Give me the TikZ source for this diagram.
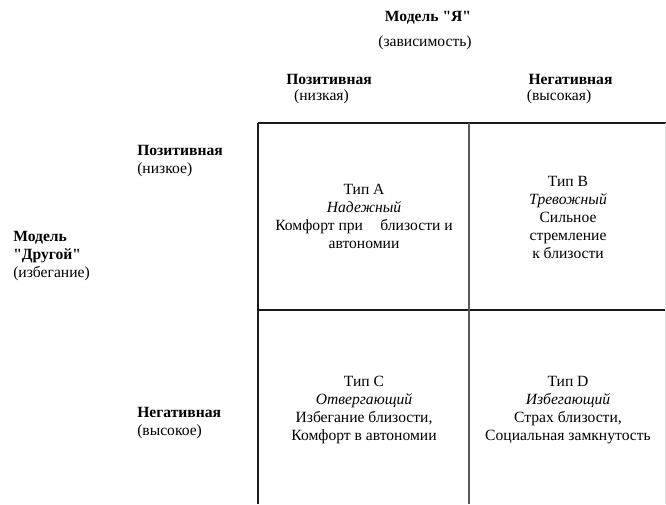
\documentclass[tikz,border=0pt]{standalone}
\usepackage{fontspec}
\setmainfont{Liberation Serif}[Ligatures=TeXOff]
\usetikzlibrary{positioning}

\begin{document}
\begin{tikzpicture}[x=0.75pt,y=-0.75pt,
  every node/.style={font=\fontsize{11.7}{13.5}\selectfont,inner sep=0pt},
  head/.style={font=\fontsize{11.7}{13.5}\selectfont\bfseries},
  side/.style={align=left,anchor=west},
  cell/.style={align=center},
  grid/.style={line width=1.1pt,black!90}]
\useasboundingbox (0,0) rectangle (666,504);

% draw horizontal lines
\draw[grid] (258,123) -- (666,123);
\draw[grid] (258,310) -- (666,310);

% draw vertical lines
\draw[grid] (258,123) -- (258,504);
\draw[grid,black!65] (469,123) -- (469,504);
\draw[line width=0.5pt,black!12] (665.5,123) -- (665.5,504);

% top labels
\node[head] (modelY) at (428,18) {Модель "Я"};
\node (depY) at (425,43) {(зависимость)};
\node[head] (posY) at (329,79) {Позитивная};
\node (lowY) at (321.5,97) {(низкая)};
\node[head] (negY) at (570.5,79) {Негативная};
\node (highY) at (559,97) {(высокая)};

% left labels
\node[side] (modelO) at (13,256.5) {\textbf{Модель}\\\textbf{"Другой"}\\(избегание)};
\node[side] (posO) at (137,161) {\textbf{Позитивная}\\(низкое)};
\node[side] (negO) at (137,423.5) {\textbf{Негативная}\\(высокое)};

% cells
\node[cell] (typeA) at (364,216.5) {Тип A\\\textit{Надежный}\\Комфорт при\hspace{13pt}близости и\\автономии};
\node[cell] (typeB) at (568,217) {Тип B\\\textit{Тревожный}\\Сильное\\стремление\\к близости};
\node[cell] (typeC) at (364,410) {Тип C\\\textit{Отвергающий}\\Избегание близости,\\Комфорт в автономии};
\node[cell] (typeD) at (568,410) {Тип D\\\textit{Избегающий}\\Страх близости,\\Социальная замкнутость};

\end{tikzpicture}
\end{document}
